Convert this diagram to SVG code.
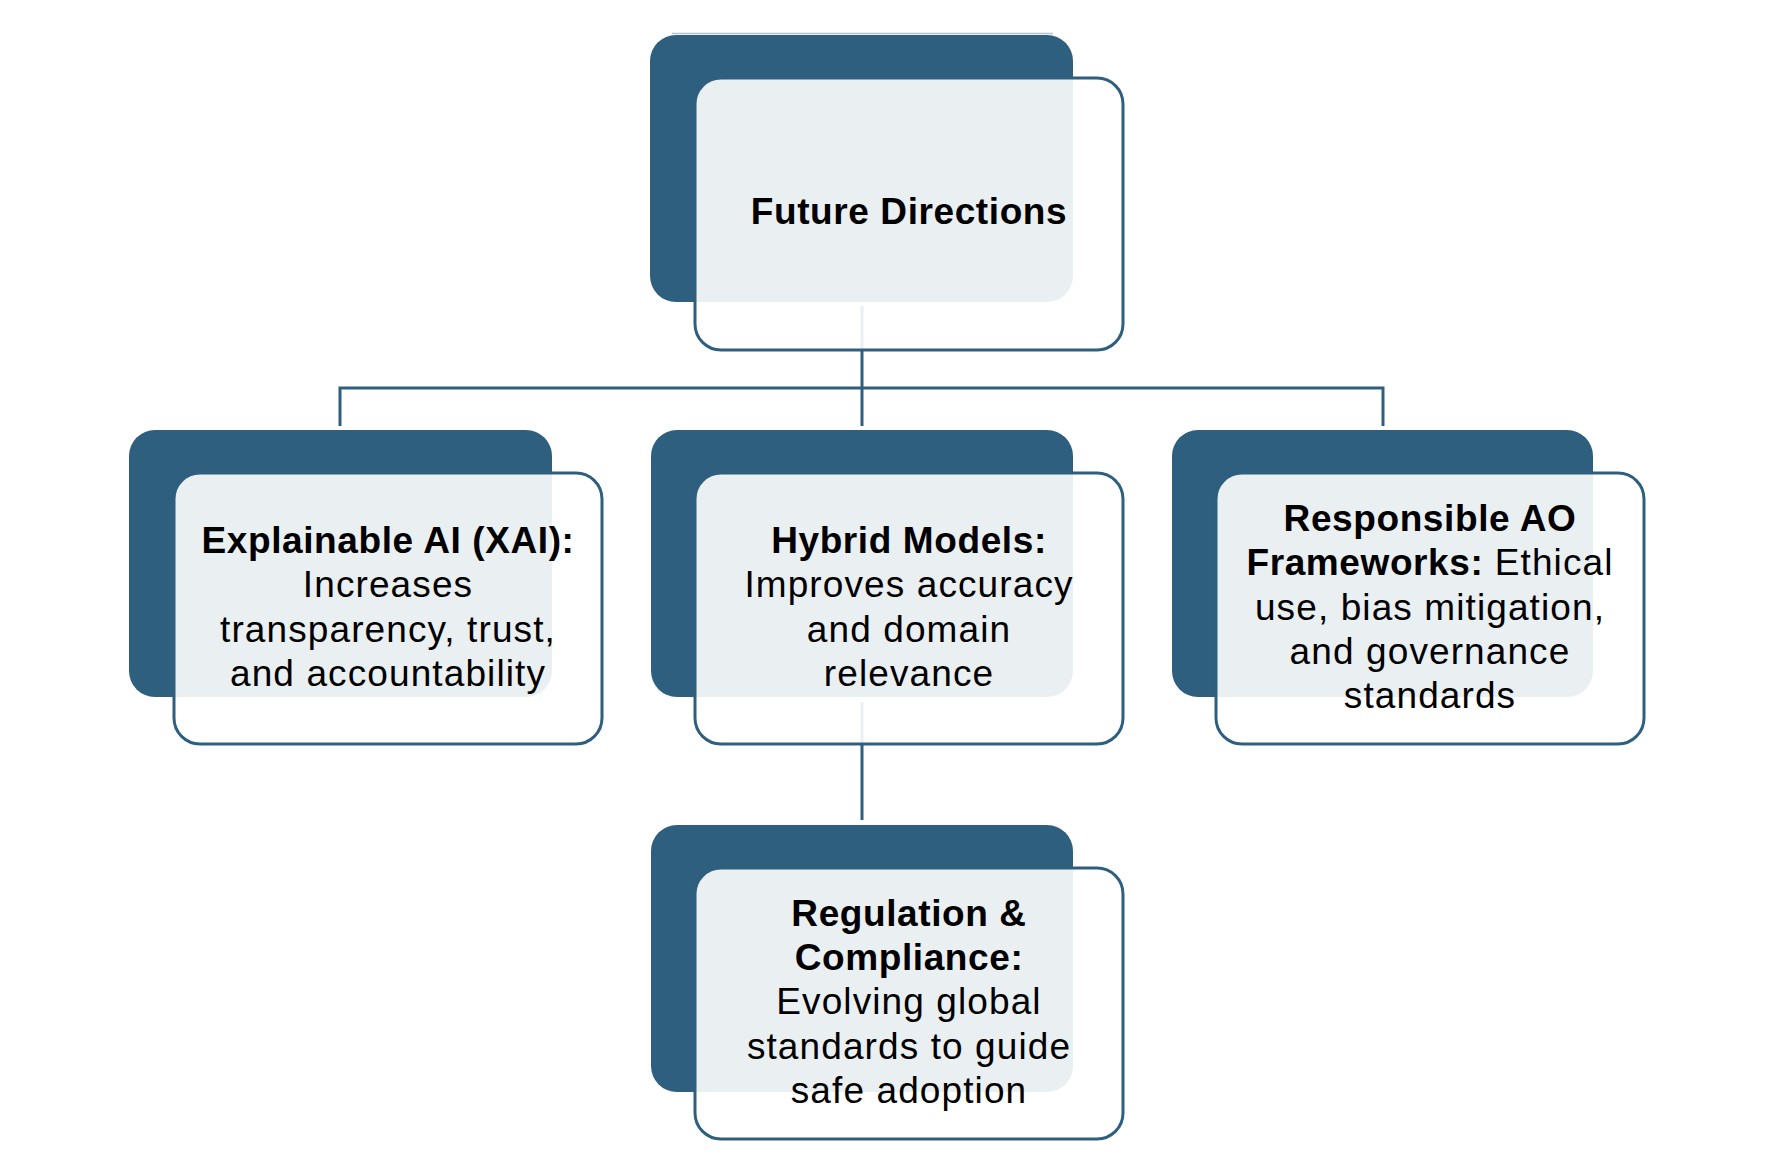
<svg xmlns="http://www.w3.org/2000/svg" width="1784" height="1174" viewBox="0 0 1784 1174">
<style>
.back{fill:#2F5F7F;}
.front{fill:#FFFFFF;fill-opacity:0.9;stroke:#2F5F7F;stroke-width:3;}
.conn{fill:none;stroke:#2F5F7F;stroke-width:3;}
.t{font-family:"Liberation Sans",Arial,sans-serif;font-size:37px;fill:#000;text-anchor:middle;letter-spacing:1.1px;}
.b{font-weight:700;letter-spacing:0.6px;}
</style>
<rect width="1784" height="1174" fill="#FFFFFF"/>
<line x1="672" y1="33.5" x2="1053" y2="33.5" stroke="#B4C3CD" stroke-width="1.5"/>
<g id="connectors">
<line class="conn" x1="862" y1="306" x2="862" y2="426"/>
<polyline class="conn" points="340,426 340,388 1383,388 1383,426"/>
<line class="conn" x1="862" y1="702" x2="862" y2="820"/>
</g>
<g id="future-directions">
<rect class="back" x="650" y="35" width="423" height="267" rx="26"/>
<rect class="front" x="695" y="78" width="428" height="272" rx="26"/>
<text class="t b" x="909" y="224">Future Directions</text>
</g>
<g id="explainable-ai">
<rect class="back" x="129" y="430" width="423" height="267" rx="26"/>
<rect class="front" x="174" y="473" width="428" height="271" rx="26"/>
<text class="t b" x="388" y="553">Explainable AI (XAI):</text>
<text class="t" x="388" y="597">Increases</text>
<text class="t" x="388" y="642">transparency, trust,</text>
<text class="t" x="388" y="686">and accountability</text>
</g>
<g id="hybrid-models">
<rect class="back" x="651" y="430" width="422" height="267" rx="26"/>
<rect class="front" x="695" y="473" width="428" height="271" rx="26"/>
<text class="t b" x="909" y="553">Hybrid Models:</text>
<text class="t" x="909" y="597">Improves accuracy</text>
<text class="t" x="909" y="642">and domain</text>
<text class="t" x="909" y="686">relevance</text>
</g>
<g id="responsible-ao">
<rect class="back" x="1172" y="430" width="421" height="267" rx="26"/>
<rect class="front" x="1216" y="473" width="428" height="271" rx="26"/>
<text class="t b" x="1430" y="531">Responsible AO</text>
<text class="t" x="1430" y="575"><tspan class="b">Frameworks:</tspan> Ethical</text>
<text class="t" x="1430" y="620">use, bias mitigation,</text>
<text class="t" x="1430" y="664">and governance</text>
<text class="t" x="1430" y="708">standards</text>
</g>
<g id="regulation-compliance">
<rect class="back" x="651" y="825" width="422" height="267" rx="26"/>
<rect class="front" x="695" y="868" width="428" height="271" rx="26"/>
<text class="t b" x="909" y="926">Regulation &amp;</text>
<text class="t b" x="909" y="970">Compliance:</text>
<text class="t" x="909" y="1014">Evolving global</text>
<text class="t" x="909" y="1059">standards to guide</text>
<text class="t" x="909" y="1103">safe adoption</text>
</g>
</svg>
